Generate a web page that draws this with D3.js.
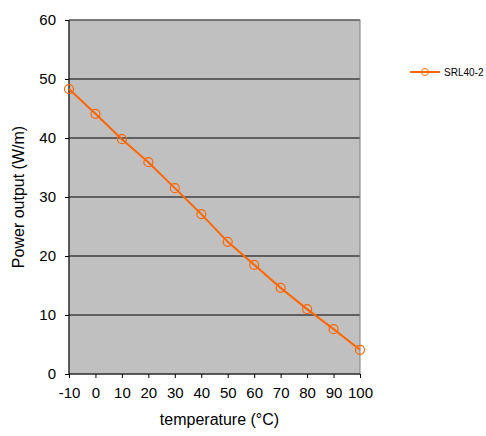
<!DOCTYPE html>
<html><head><meta charset="utf-8">
<script src="https://cdn.jsdelivr.net/npm/d3@7"></script>
<style>body{margin:0;background:#fff;}text{font-family:Arial,"Liberation Sans",sans-serif;}</style>
</head><body>
<svg id="c" width="486" height="436"></svg>
<script>
const temps = [-10,0,10,20,30,40,50,60,70,80,90,100];
const power = [48.3,44.1,39.8,35.9,31.5,27.1,22.4,18.5,14.6,11.0,7.6,4.1];
const xTicks = [-10,0,10,20,30,40,50,60,70,80,90,100];
const yTicks = [0,10,20,30,40,50,60];
const seriesName = "SRL40-2";

const svg = d3.select("#c");
const L=69,R=360,T=20,B=374;
const x = d3.scaleLinear().domain([-10,100]).range([L,R]);
const y = d3.scaleLinear().domain([0,60]).range([B,T]);
const col = "#ff6600";

svg.append("rect").attr("x",L).attr("y",T).attr("width",R-L).attr("height",B-T).attr("fill","#c0c0c0");
svg.append("g").selectAll("line").data(yTicks.filter(d=>d>0)).join("line")
  .attr("x1",L).attr("x2",R).attr("y1",d=>y(d)).attr("y2",d=>y(d)).attr("stroke","#000").attr("stroke-width",1);
svg.append("rect").attr("x",L).attr("y",T).attr("width",R-L).attr("height",B-T).attr("fill","none").attr("stroke","#808080");
svg.append("line").attr("x1",L).attr("x2",L).attr("y1",T).attr("y2",B).attr("stroke","#000");
svg.append("line").attr("x1",L).attr("x2",R).attr("y1",B).attr("y2",B).attr("stroke","#000");

svg.append("g").attr("transform",`translate(0,${B})`)
  .call(d3.axisBottom(x).tickValues(xTicks).tickFormat(d=>String(d)).tickSize(4).tickSizeOuter(0))
  .call(g=>{g.select(".domain").remove();g.selectAll("text").attr("font-size",15).attr("fill","#000").attr("dy","1.1em");});
svg.append("g").attr("transform",`translate(${L},0)`)
  .call(d3.axisLeft(y).tickValues(yTicks).tickSize(4).tickSizeOuter(0))
  .call(g=>{g.select(".domain").remove();g.selectAll("text").attr("font-size",15).attr("fill","#000").attr("dx","-0.4em");});

const pts = temps.map((t,i)=>[t,power[i]]);
svg.append("path").datum(pts).attr("fill","none").attr("stroke",col).attr("stroke-width",2)
  .attr("d",d3.line().x(d=>x(d[0])).y(d=>y(d[1])));
svg.append("g").selectAll("circle").data(pts).join("circle")
  .attr("cx",d=>x(d[0])).attr("cy",d=>y(d[1])).attr("r",4.5).attr("fill","none").attr("stroke",col).attr("stroke-width",1.2);

svg.append("text").attr("x",(L+R)/2+5).attr("y",425).attr("text-anchor","middle").attr("font-size",16).text("temperature (°C)");
svg.append("text").attr("transform",`translate(24,${(T+B)/2}) rotate(-90)`).attr("text-anchor","middle").attr("font-size",16).text("Power output (W/m)");

svg.append("line").attr("x1",410).attr("x2",440).attr("y1",72).attr("y2",72).attr("stroke",col).attr("stroke-width",2);
svg.append("circle").attr("cx",425).attr("cy",72).attr("r",3.5).attr("fill","none").attr("stroke",col);
svg.append("text").attr("x",444).attr("y",75.5).attr("font-size",10).text(seriesName);
</script>
</body></html>
